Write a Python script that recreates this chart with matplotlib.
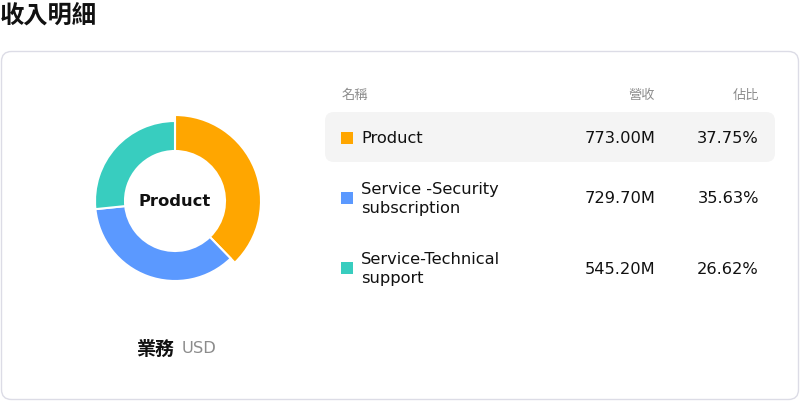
import matplotlib
matplotlib.use("Agg")
import matplotlib.pyplot as plt
from matplotlib.patches import FancyBboxPatch

categories = ["Product", "Service -Security\nsubscription", "Service-Technical\nsupport"]
revenue_m = [773.00, 729.70, 545.20]
shares = [37.75, 35.63, 26.62]
colors = ["#FFA600", "#5B99FF", "#38CDBF"]

plt.rcParams['font.family'] = ['DejaVu Sans', 'Noto Sans CJK TC']
CJK = ['Noto Sans CJK TC', 'DejaVu Sans']

W, H = 800, 402
fig = plt.figure(figsize=(W / 100, H / 100), dpi=100)
ax = fig.add_axes([0, 0, 1, 1])

def Y(py):
    return H - py

# title
ax.text(0, Y(16), "收入明細", fontsize=17.5, fontweight='bold', family=CJK,
        ha='left', va='center', color='#111111')

# card
card = FancyBboxPatch((1.5, Y(400.5)), 797, 348, boxstyle="round,pad=0,rounding_size=10",
                      fc='white', ec='#dcdce6', lw=1)
ax.add_patch(card)

# donut
wedges, _ = ax.pie(revenue_m, radius=80, center=(175, Y(202)), startangle=90,
                   counterclock=False, colors=colors,
                   wedgeprops=dict(width=30, edgecolor='white', linewidth=1.5))
wedges[0].set_radius(86)
wedges[0].set_width(36)
ax.set_xlim(0, W)
ax.set_ylim(0, H)
ax.set_aspect('equal')
ax.axis('off')

ax.text(175, Y(202), categories[0], fontsize=11.8, fontweight='bold', ha='center', va='center',
        color='#111111')

ax.text(174, Y(349), "業務", fontsize=13.7, fontweight='bold', family=CJK, ha='right',
        va='center', color='#111111')
ax.text(182, Y(349), "USD", fontsize=11.7, ha='left', va='center', color='#8c8c8c')

# table header
hdr_fs = 9.5
ax.text(342, Y(95), "名稱", fontsize=hdr_fs, family=CJK, ha='left', va='center', color='#8c8c8c')
ax.text(655, Y(95), "營收", fontsize=hdr_fs, family=CJK, ha='right', va='center', color='#8c8c8c')
ax.text(759, Y(95), "佔比", fontsize=hdr_fs, family=CJK, ha='right', va='center', color='#8c8c8c')

# highlight row
hl = FancyBboxPatch((325, Y(163)), 450, 50, boxstyle="round,pad=0,rounding_size=9",
                    fc='#f4f4f4', ec='none')
ax.add_patch(hl)

row_y = [138.5, 199, 269]
fs = 11.7
for cat, rev, sh, col, ry in zip(categories, revenue_m, shares, colors, row_y):
    ax.add_patch(plt.Rectangle((341, Y(ry) - 6), 12, 12, fc=col, ec='none'))
    ax.text(361, Y(ry), cat, fontsize=fs, ha='left', va='center', color='#111111',
            linespacing=1.27)
    ax.text(655, Y(ry), f"{rev:.2f}M", fontsize=fs, ha='right', va='center', color='#111111')
    ax.text(759, Y(ry), f"{sh:.2f}%", fontsize=fs, ha='right', va='center', color='#111111')

fig.savefig("out.png", dpi=100)
